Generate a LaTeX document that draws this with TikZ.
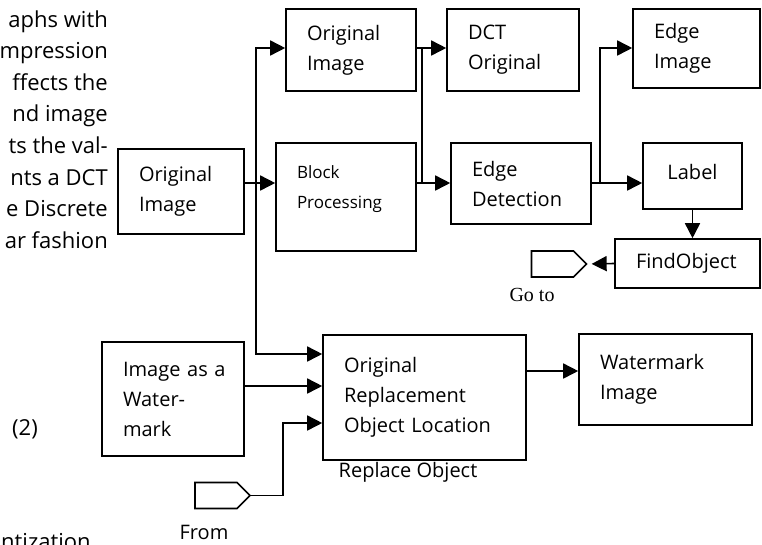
\documentclass[tikz,border=0pt]{standalone}
\usepackage{fontspec}
\setmainfont{Open Sans}
\newfontfamily\gofont{Liberation Serif}
\usepackage{tikz}
\usetikzlibrary{arrows.meta, shapes.symbols}

\tikzset{
  blockbox/.style={draw, line width=1.6pt, inner xsep=21pt, inner ysep=0pt, align=left,
    font=\fontsize{20}{30}\selectfont},
  link/.style={line width=1.6pt, line cap=rect},
  arr/.style={link, -{Triangle[length=15pt,width=15pt]}},
  port/.style={draw, line width=1.6pt, shape=signal, signal to=east, signal from=nowhere,
    minimum width=55pt, minimum height=26pt, inner sep=0pt},
  para/.style={font=\fontsize{22}{30}\selectfont, inner sep=0pt},
  captext/.style={font=\fontsize{20}{24}\selectfont, inner sep=0pt}
}

\begin{document}
\begin{tikzpicture}[x=1pt, y=-1pt]
  \useasboundingbox (0,0) rectangle (762,544);
  \clip (0,0) rectangle (762,544);

  % text of the page beside the figure
  \foreach \txt [count=\i] in {aphs with, mpression, ffects the, nd image, ts the val-, nts a DCT, e Discrete, ar fashion}
    \node[para, anchor=base east] (par\i) at (108, {27+31.6*(\i-1)}) {\txt};
  \node[para, anchor=base west] (eqno) at (12,435) {(2)};
  \node[para, anchor=base west] (quant) at (1,549) {ntization};

  % blocks
  \node[blockbox, text width=84pt, minimum height=85pt] (orig) at (181,191.5) {Original\\Image};
  \node[blockbox, text width=88pt, minimum height=82pt] (origtop) at (351,50) {Original\\Image};
  \node[blockbox, text width=98pt, minimum height=108pt, text depth=50pt,
        font=\fontsize{17}{30}\selectfont] (block) at (346,197) {Block\\Processing};
  \node[blockbox, text width=90pt, minimum height=82pt] (dct) at (513,50) {DCT\\Original};
  \node[blockbox, text width=98pt, minimum height=81pt] (edge) at (521,183.5) {Edge\\Detection};
  \node[blockbox, text width=85pt, minimum height=79pt] (edgeimg) at (696.5,48.5) {Edge\\Image};
  \node[blockbox, text width=57pt, minimum height=66pt, align=center, text depth=9pt] (label) at (692.5,176) {Label};
  \node[blockbox, text width=103pt, minimum height=49pt] (find) at (687.5,263.5) {FindObject};
  \node[blockbox, text width=100pt, minimum height=114pt] (wmark) at (173,399) {\mbox{Image as a}\\Water-\\mark};
  \node[blockbox, text width=161pt, minimum height=125pt] (replace) at (424.5,397.5) {Original\\Replacement\\Object Location};
  \node[blockbox, text width=131pt, minimum height=91pt] (wmimg) at (665.5,379.5) {Watermark\\Image};

  % ports
  \node[port] (goto) at (552.5,264) {};
  \node[port] (from) at (216,495.5) {};
  \node[font=\gofont\fontsize{20}{24}\selectfont] (gotolbl) at (532,295) {Go to};
  \node[captext] (fromlbl) at (204,532) {From};
  \node[captext] (replbl) at (408,472) {Replace Object};

  % junctions
  \coordinate (sA) at (256,183);
  \coordinate (sAt) at (256,48);
  \coordinate (sAb) at (256,354);
  \coordinate (sB) at (422,48);
  \coordinate (sBb) at (422,183);
  \coordinate (sC) at (600,183);
  \coordinate (sCt) at (600,48);
  \coordinate (sD) at (283,423);
  \coordinate (rowW) at (0,386);
  \coordinate (rowR) at (0,371);

  % connectors
  \draw[link] (orig.east |- sA) -- (sA);
  \draw[arr] (sA) -- (sA -| block.west);
  \draw[arr] (sAb) -- (sAt) -- (sAt -| origtop.west);
  \draw[arr] (sAb) -- (sAb -| replace.west);
  \draw[link] (origtop.east |- sB) -- (sB);
  \draw[arr] (sB) -- (sB -| dct.west);
  \draw[arr] (sB) -- (sBb) -- (sBb -| edge.west);
  \draw[link] (block.east |- sBb) -- (sBb);
  \draw[link] (edge.east |- sC) -- (sC);
  \draw[arr] (sC) -- (sC -| label.west);
  \draw[arr] (sC) -- (sCt) -- (sCt -| edgeimg.west);
  \draw[arr] (label.south) -- (label.south |- find.north);
  \draw[arr, shorten >=4pt] (find.west) -- (goto.east);
  \draw[arr] (from.east) -| (sD) -- (sD -| replace.west);
  \draw[arr] (wmark.east |- rowW) -- (rowW -| replace.west);
  \draw[arr] (replace.east |- rowR) -- (rowR -| wmimg.west);
\end{tikzpicture}
\end{document}
